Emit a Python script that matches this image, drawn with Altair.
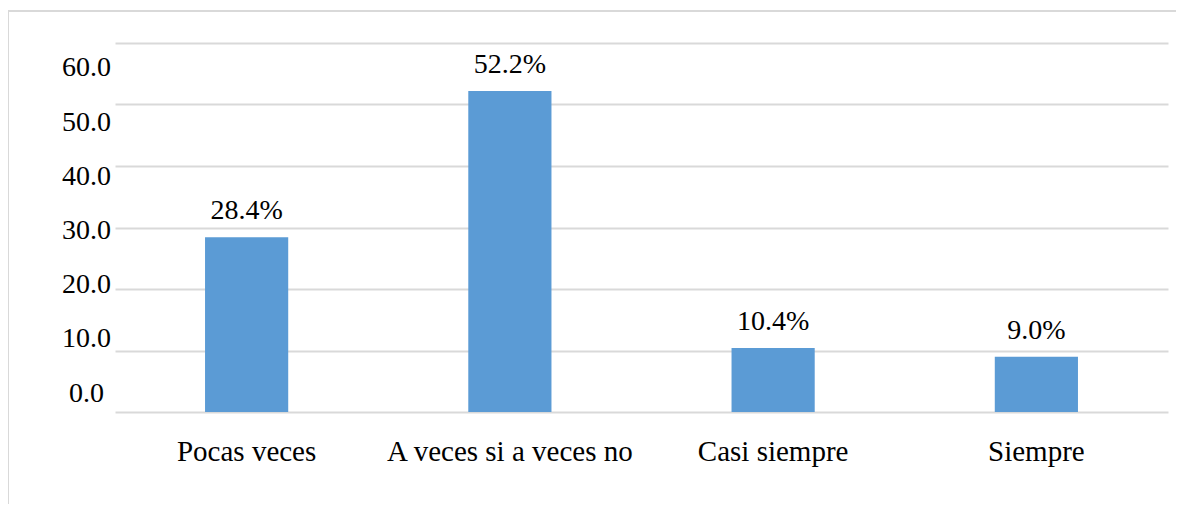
import altair as alt
import pandas as pd

categories = ["Pocas veces", "A veces si a veces no", "Casi siempre", "Siempre"]
values = [28.4, 52.2, 10.4, 9.0]
labels = ["28.4%", "52.2%", "10.4%", "9.0%"]
tick_values = [0, 10, 20, 30, 40, 50, 60]

df = pd.DataFrame({"cat": categories, "val": values, "lab": labels})
ticks_df = pd.DataFrame({"t": tick_values})

FONT = "Liberation Serif, Times New Roman, serif"
BAR = "#5b9bd5"
GRID = "#d9d9d9"

x_enc = alt.X("cat:N", sort=categories, title=None,
              scale=alt.Scale(paddingInner=0.684, paddingOuter=0.342),
              axis=alt.Axis(labelAngle=0, labelFont=FONT, labelFontSize=29,
                            labelColor="black", labelPadding=25, domain=False,
                            ticks=False, grid=False, labelLimit=400))

y_scale = alt.Scale(domain=[0, 60], nice=False)

bars = alt.Chart(df).mark_bar(color=BAR).encode(
    x=x_enc,
    y=alt.Y("val:Q", scale=y_scale, title=None,
            axis=alt.Axis(values=tick_values, grid=True, gridColor=GRID,
                          gridWidth=2, labels=False, ticks=False,
                          tickSize=0, domain=False)),
)

texts = alt.Chart(df).mark_text(font=FONT, fontSize=28, color="black",
                                baseline="alphabetic", dy=-18).encode(
    x=alt.X("cat:N", sort=categories),
    y=alt.Y("val:Q", scale=y_scale),
    text="lab:N",
)

main = alt.layer(bars, texts)

tick_axis = alt.Chart(ticks_df).mark_point(opacity=0).encode(
    y=alt.Y("t:Q", title=None,
            scale=alt.Scale(domain=[-3.5, 64.6], nice=False, zero=False),
            axis=alt.Axis(orient="left", values=tick_values, format=".1f",
                          grid=False, ticks=False, tickSize=0, domain=False,
                          labelFont=FONT, labelFontSize=28, labelColor="black",
                          labelAlign="center", labelBaseline="middle",
                          labelPadding=29, offset=0)),
)

border_left = alt.Chart(ticks_df).mark_rule(color=GRID, strokeWidth=2).encode(
    x=alt.value(-107), y=alt.value(-32), y2=alt.value(470))
border_top = alt.Chart(ticks_df).mark_rule(color=GRID, strokeWidth=2).encode(
    x=alt.value(-107), x2=alt.value(1070), y=alt.value(-32))

chart = alt.layer(border_left, border_top, main, tick_axis).resolve_scale(
    y="independent"
).properties(
    width=1053, height=369,
    autosize=alt.AutoSizeParams(type="none"),
    padding={"left": 107, "top": 35, "right": 8, "bottom": 92},
).configure(
    background="white",
    font=FONT,
    view=alt.ViewConfig(stroke=None),
    text=alt.MarkConfig(font=FONT),
)

chart.save("out.html", embed_options={"renderer": "svg", "actions": False})
